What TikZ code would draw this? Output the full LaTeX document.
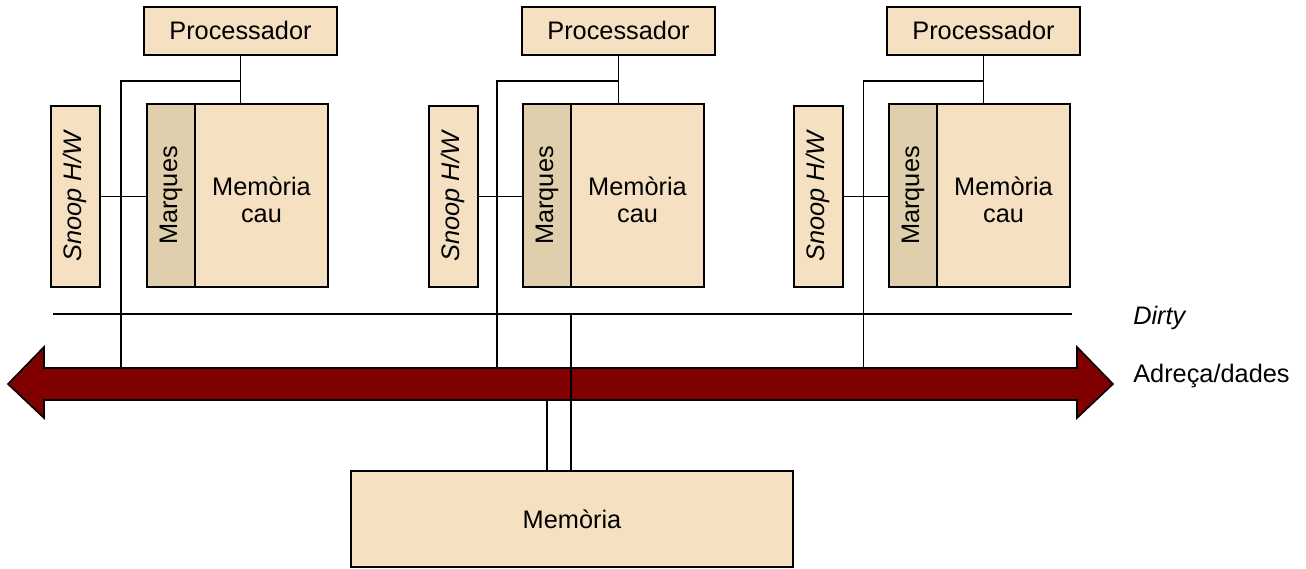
\documentclass[tikz,border=0pt]{standalone}
\usepackage{fontspec}
\setmainfont{Liberation Sans}
\usetikzlibrary{calc}
\definecolor{beige}{RGB}{245,224,194}
\definecolor{tagfill}{RGB}{224,207,173}
\definecolor{busred}{RGB}{128,0,0}
\begin{document}
\begin{tikzpicture}[x=0.75pt,y=-0.75pt,
  box/.style={draw=black,line width=1.5pt,fill=beige,inner sep=0pt,outer sep=0pt,
              font=\fontsize{19}{21}\selectfont,align=center},
  tagbox/.style={box,fill=tagfill},
  sidetext/.style={anchor=west,inner sep=0pt,font=\fontsize{19}{21}\selectfont},
  wire/.style={line width=1.3pt},
  thinwire/.style={line width=1pt}]
\useasboundingbox (0,0) rectangle (1306,568);

% address/data bus (double-headed block arrow)
\filldraw[fill=busred,draw=black,line width=1.2pt]
  (8,384) -- (44,347) -- (44,368) -- (1077,368) -- (1077,347) -- (1113,384)
  -- (1077,418) -- (1077,400) -- (44,400) -- (44,418) -- cycle;

% dirty line
\coordinate (dl) at (53,314);
\coordinate (dr) at (1072,314);
\draw[thinwire] (dl) -- (dr);
\node[sidetext,font=\fontsize{19}{21}\selectfont\itshape] (dirty) at (1133,318) {Dirty};
\node[sidetext] (addr) at (1133,376) {Adreça/dades};

% processor + cache + snoop groups
\foreach \i/\px/\sx/\cx/\tx in {1/240.5/75.3/147/121, 2/618.5/453/523/497, 3/983.5/818.3/889/863.5}{
  \node[box,minimum width=144.75pt,minimum height=36pt] (proc\i) at (\px,30.5) {Processador};
  \node[box,minimum width=36.75pt,minimum height=135.75pt] (snoop\i) at (\sx,196.5)
    {\rotatebox{90}{\itshape Snoop H/W}};
  \node[tagbox,minimum width=36pt,minimum height=137.25pt,anchor=north west] (marq\i) at (\cx,104)
    {\rotatebox{90}{Marques}};
  \node[box,minimum width=99.75pt,minimum height=137.25pt,anchor=north west,
        label={[font=\fontsize{19}{20}\selectfont,align=center,yshift=-3pt]center:Memòria\\cau}]
        (cache\i) at (marq\i.north east) {};
  \draw[wire] (proc\i.south) -- (proc\i.south |- cache\i.north);
  \coordinate (j\i) at (\px,81);
  \coordinate (t\i) at (\tx,368);
  \draw[wire] (j\i) -| (t\i);
  \draw[wire] (snoop\i.east) -- (snoop\i.east -| marq\i.west);
}

% main memory
\node[box,minimum width=331.5pt,minimum height=72pt] (mem) at (572,519) {Memòria};
\coordinate (dm) at (571,314);
\coordinate (bm) at (547,400);
\draw[thinwire] (dm) -- (dm |- mem.north);
\draw[wire] (bm) -- (bm |- mem.north);
\end{tikzpicture}
\end{document}
